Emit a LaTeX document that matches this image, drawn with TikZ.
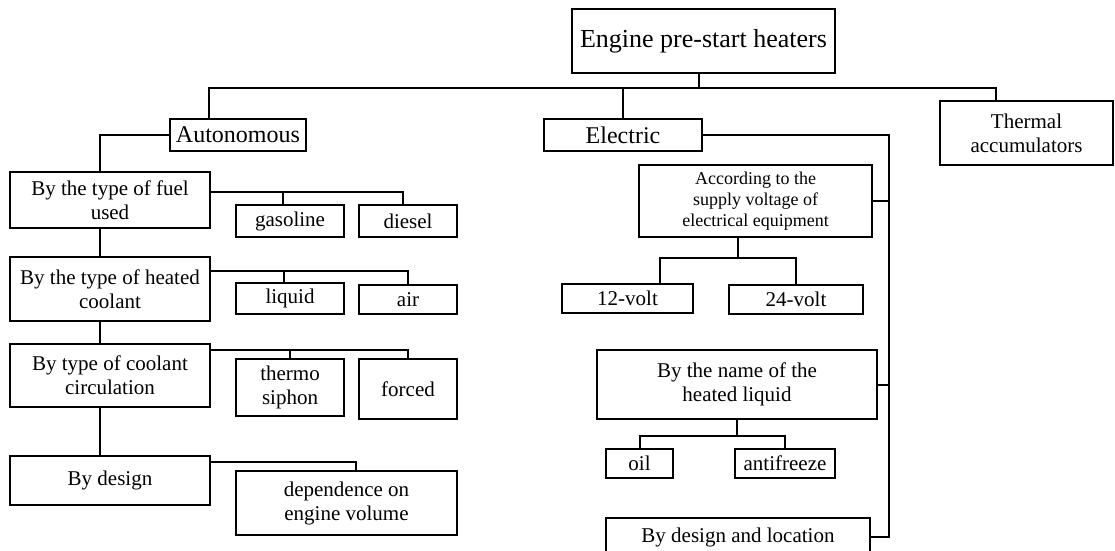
\documentclass[tikz,border=0pt]{standalone}
\usepackage{fontspec}
\setmainfont{Liberation Serif}
\newcommand\txthead{\fontsize{26}{30}\selectfont}
\newcommand\txtbig{\fontsize{24}{27}\selectfont}
\newcommand\txtnorm{\fontsize{21}{24}\selectfont}
\newcommand\txtsmall{\fontsize{18}{21}\selectfont}
\tikzset{
  box/.style={draw, line width=2pt, inner sep=0pt, align=center, font=\txtnorm},
  wire/.style={line width=2pt}
}
\begin{document}
\begin{tikzpicture}[x=1pt, y=-1pt]
                \useasboundingbox (0,0) rectangle (1115,550);
                \clip (0,0) rectangle (1115,550);

                \node [box, font=\txthead, minimum width=263, minimum height=64] (title) at (703.5,41) {Engine pre-start heaters};
                \node [box, font=\txtbig, minimum width=136, minimum height=32] (auto) at (238,135) {Autonomous};
                \node [box, font=\txtbig, minimum width=158, minimum height=32] (elec) at (623,135) {Electric};
                \node [box, minimum width=173, minimum height=64] (therm) at (1026.5,133) {Thermal\\accumulators};

                \node [box, minimum width=200, minimum height=56] (fuel) at (110,200) {By the type of fuel\\used};
                \node [box, minimum width=108, minimum height=32] (gas) at (290,221) {gasoline};
                \node [box, minimum width=98, minimum height=32] (diesel) at (408,221) {diesel};
                \node [box, minimum width=200, minimum height=64] (heated) at (110,289) {By the type of heated\\coolant};
                \node [box, minimum width=108, minimum height=31] (liquid) at (290,298.5) {liquid};
                \node [box, minimum width=98, minimum height=29] (air) at (408,299.5) {air};
                \node [box, minimum width=200, minimum height=63] (circ) at (110,375.5) {By type of coolant\\circulation};
                \node [box, minimum width=108, minimum height=57] (thermo) at (290,387.5) {thermo\\siphon};
                \node [box, minimum width=98, minimum height=60] (forced) at (408,389) {forced};
                \node [box, minimum width=200, minimum height=49] (design) at (110,480.5) {By design};
                \node [box, minimum width=221, minimum height=64] (depend) at (346.5,503) {dependence on\\engine volume};

                \node [box, font=\txtsmall, minimum width=233, minimum height=72] (supply) at (755.5,201) {According to the\\supply voltage of\\electrical equipment};
                \node [box, minimum width=131, minimum height=29] (v12) at (627.5,298.5) {12-volt};
                \node [box, minimum width=134, minimum height=29] (v24) at (796,299.5) {24-volt};
                \node [box, minimum width=280, minimum height=69] (name) at (737,384.5) {By the name of the\\heated liquid};
                \node [box, minimum width=67, minimum height=29] (oil) at (639.5,463.5) {oil};
                \node [box, minimum width=100, minimum height=29] (anti) at (785,463.5) {antifreeze};
                \node [box, minimum width=264, minimum height=38] (loc) at (738,537) {By design and location};

                \coordinate (busL) at (209,88);
                \coordinate (busR) at (996,88);
                \coordinate (rail) at (889,0);

                \draw [wire] ([xshift=-4.5]title.south) -- ++(0,15);
                \draw [wire] (busL |- auto.north) -- (busL) -- (busR) -- (busR |- therm.north);
                \draw [wire] (elec.north) -- (elec.north |- busL);

                \draw [wire] (auto.west) -| ([xshift=-10]fuel.north);
                \draw [wire] ([xshift=-10]fuel.south) -- ([xshift=-10]heated.north);
                \draw [wire] ([xshift=-10]heated.south) -- ([xshift=-10]circ.north);
                \draw [wire] ([xshift=-10]circ.south) -- ([xshift=-10]design.north);

                \draw [wire] ([yshift=8]fuel.east) -| ([xshift=-5]diesel.north);
                \draw [wire] ([xshift=-7]gas.north) -- ++(0,-13);
                \draw [wire] ([yshift=18]heated.east) -| (air.north);
                \draw [wire] ([xshift=-6]liquid.north) -- ++(0,-12);
                \draw [wire] ([yshift=25.5]circ.east) -| (forced.north);
                \draw [wire] (thermo.north) -- ++(0,-9);
                \draw [wire] ([yshift=18.5]design.east) -| ([xshift=9.5]depend.north);

                \draw [wire] (elec.east) -| (rail |- loc.east) -- (loc.east);
                \draw [wire] (supply.east) -- (supply.east -| rail);
                \draw [wire] (name.east) -- (name.east -| rail);

                \draw [wire] ([xshift=-17.5]supply.south) -- ++(0,20) coordinate (vb);
                \draw [wire] ([xshift=32.5]v12.north) |- (vb) -| (v24.north);
                \draw [wire] (name.south) -- ++(0,16) coordinate (nb);
                \draw [wire] (oil.north) |- (nb) -| (anti.north);
            \end{tikzpicture}
\end{document}
